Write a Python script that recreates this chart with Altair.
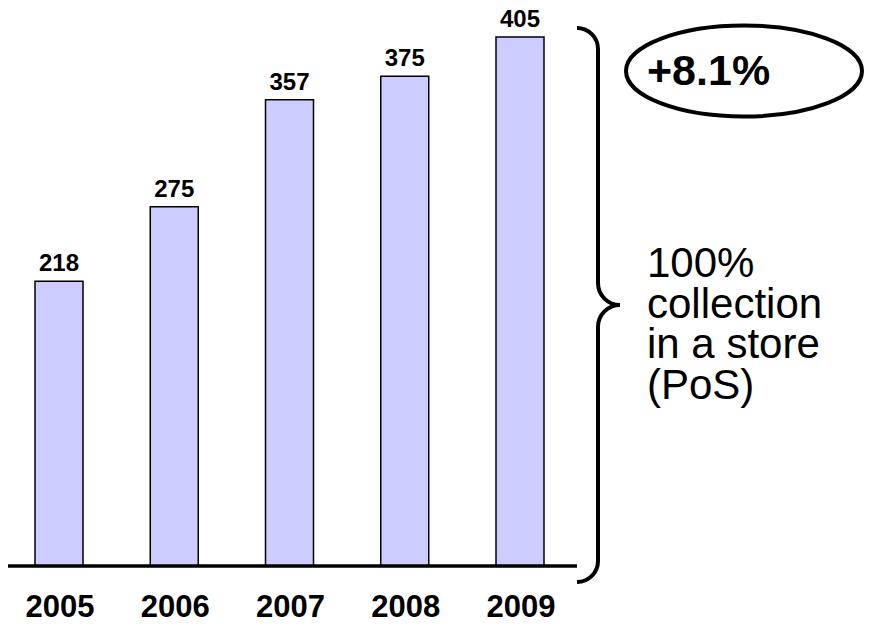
import math
import altair as alt
import pandas as pd

# ---- data ----
years = ["2005", "2006", "2007", "2008", "2009"]
values = [218, 275, 357, 375, 405]
growth_label = "+8.1%"
side_note = ["100%", "collection", "in a store", "(PoS)"]

df = pd.DataFrame({"year": years, "yr": [int(v) for v in years], "value": values})
zero_df = pd.DataFrame({"value": [0]})
ann = pd.DataFrame({"k": [0]})

FONT = "Liberation Sans"
K = 0.5523
W, H = 856, 613  # plot size so that page (8px margins) fits the 872x629 window


def quarter(cx, cy, rx, ry, a0, a1):
    s = 1 if a1 > a0 else -1
    r0, r1 = math.radians(a0), math.radians(a1)
    p0 = (cx + rx * math.cos(r0), cy + ry * math.sin(r0))
    p3 = (cx + rx * math.cos(r1), cy + ry * math.sin(r1))
    t0 = (-s * rx * math.sin(r0), s * ry * math.cos(r0))
    t1 = (-s * rx * math.sin(r1), s * ry * math.cos(r1))
    p1 = (p0[0] + K * t0[0], p0[1] + K * t0[1])
    p2 = (p3[0] - K * t1[0], p3[1] - K * t1[1])
    return p0, f"C{p1[0]:.5f},{p1[1]:.5f} {p2[0]:.5f},{p2[1]:.5f} {p3[0]:.5f},{p3[1]:.5f}"


def brace_path(h=277.0):
    parts = []
    p0, c = quarter(-21 / h, -256 / h, 21 / h, 21 / h, -90, 0)
    parts.append(f"M{p0[0]:.5f},{p0[1]:.5f}")
    parts.append(c)
    parts.append(f"L0,{-22 / h:.5f}")
    parts.append(quarter(22 / h, -22 / h, 22 / h, 22 / h, 180, 90)[1])
    parts.append(quarter(22 / h, 22 / h, 22 / h, 22 / h, 270, 180)[1])
    parts.append(f"L0,{256 / h:.5f}")
    parts.append(quarter(-21 / h, 256 / h, 21 / h, 21 / h, 0, 90)[1])
    return " ".join(parts)


ell_w, ell_h = 236.0, 91.0


def ellipse_path():
    ry = ell_h / ell_w
    p0, c1 = quarter(0, 0, 1, ry, 180, 270)
    parts = [f"M{p0[0]:.5f},{p0[1]:.5f}", c1]
    parts.append(quarter(0, 0, 1, ry, 270, 360)[1])
    parts.append(quarter(0, 0, 1, ry, 0, 90)[1])
    parts.append(quarter(0, 0, 1, ry, 90, 180)[1])
    parts.append("Z")
    return " ".join(parts)


px_per_year = 115.25
x0 = 2005 - 51 / px_per_year
x1 = x0 + W / px_per_year

x = alt.X("yr:Q", axis=None, scale=alt.Scale(domain=[x0, x1], nice=False, zero=False, padding=0))
y = alt.Y("value:Q", axis=None,
          scale=alt.Scale(domain=[0, 405], range=[558, 29], nice=False, zero=True, padding=0))

base = alt.Chart(df)

bars = base.mark_bar(fill="#CCCCFF", stroke="black", strokeWidth=1.5, width=48, clip=True).encode(x=x, y=y)

baseline = alt.Chart(zero_df).mark_rule(color="black", strokeWidth=3.5, clip=True).encode(
    x=alt.value(0), x2=alt.value(569), y=y
)

value_labels = base.mark_text(
    font=FONT, fontSize=24, fontWeight="bold", baseline="alphabetic", dy=-10, color="black", clip=True
).encode(x=x, y=y, text="value:Q")

year_labels = base.mark_text(
    font=FONT, fontSize=31, fontWeight="bold", baseline="alphabetic", dx=1, color="black", clip=True
).encode(x=x, y=alt.value(609), text="year:N")

ellipse = alt.Chart(ann).mark_point(
    shape=ellipse_path(), size=ell_w ** 2, filled=False, color="black",
    strokeWidth=4, opacity=1, clip=True,
).encode(x=alt.value(736), y=alt.value(63))

growth = alt.Chart(ann).mark_text(
    text=growth_label, font=FONT, fontSize=43, fontWeight="bold",
    align="left", baseline="alphabetic", color="black", clip=True,
).encode(x=alt.value(639), y=alt.value(77))

brace = alt.Chart(ann).mark_point(
    shape=brace_path(), size=554 ** 2, filled=False, color="black",
    strokeWidth=4, opacity=1, clip=True,
).encode(x=alt.value(590), y=alt.value(297))

note_layers = [
    alt.Chart(ann).mark_text(
        text=line, font=FONT, fontSize=42, align="left", baseline="alphabetic", color="black", clip=True,
    ).encode(x=alt.value(639), y=alt.value(269 + 40.5 * i))
    for i, line in enumerate(side_note)
]

chart = (
    alt.layer(bars, baseline, value_labels, year_labels, ellipse, growth, brace, *note_layers)
    .properties(width=W, height=H, padding=0)
    .configure_view(stroke=None)
)

chart.save("out.html", embed_options={"renderer": "svg", "actions": False})
